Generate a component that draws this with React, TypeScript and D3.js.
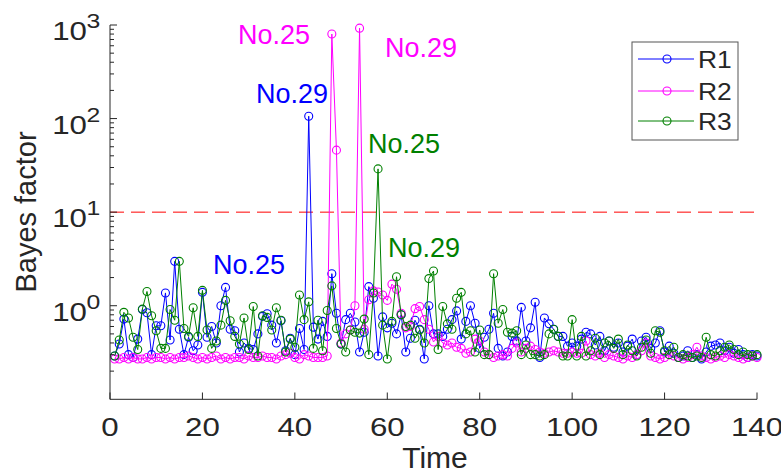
import React from "react";
import * as d3 from "d3";

const seriesNames = ["R1", "R2", "R3"];
const seriesColors = ["#0000ff", "#ff00ff", "#008000"];

const r1 = [
  0.29, 0.39, 0.72, 0.30, 0.28, 0.44, 0.91, 0.84, 0.30, 0.61,
  0.61, 1.37, 0.43, 2.98, 0.56, 0.30, 0.46, 0.33, 0.38, 1.39,
  0.46, 0.60, 0.40, 1.00, 1.57, 0.56, 0.54, 0.32, 0.40, 0.35,
  0.34, 0.50, 0.77, 0.82, 0.62, 0.40, 0.69, 0.33, 0.45, 0.30,
  0.57, 0.34, 106, 0.59, 0.44, 0.68, 0.47, 2.2, 0.83, 0.39,
  0.71, 0.83, 0.67, 0.32, 0.52, 1.6, 1.2, 0.29, 0.76, 0.58,
  0.65, 0.50, 0.80, 0.32, 0.45, 0.70, 0.56, 0.27, 1.0, 0.50,
  0.50, 0.47, 0.56, 0.71, 0.88, 0.44, 0.68, 1.0, 0.65, 0.35,
  0.46, 0.56, 0.83, 0.35, 0.29, 0.32, 0.47, 0.42, 0.96, 0.42,
  0.58, 1.09, 0.28, 0.74, 0.64, 0.56, 0.47, 0.47, 0.37, 0.40,
  0.37, 0.44, 0.52, 0.50, 0.38, 0.47, 0.33, 0.42, 0.36, 0.40,
  0.32, 0.37, 0.44, 0.30, 0.42, 0.46, 0.35, 0.40, 0.54, 0.32,
  0.37, 0.31, 0.28, 0.29, 0.33, 0.28, 0.30, 0.27, 0.32, 0.37,
  0.38, 0.40, 0.33, 0.36, 0.31, 0.34, 0.30, 0.28, 0.30, 0.29,
];

const r2 = [
  0.27, 0.27, 0.28, 0.27, 0.28, 0.27, 0.27, 0.28, 0.27, 0.28,
  0.28, 0.27, 0.28, 0.27, 0.28, 0.28, 0.29, 0.28, 0.27, 0.28,
  0.27, 0.28, 0.29, 0.27, 0.28, 0.27, 0.28, 0.28, 0.27, 0.29,
  0.28, 0.28, 0.29, 0.28, 0.28, 0.27, 0.29, 0.30, 0.31, 0.28,
  0.27, 0.30, 0.29, 0.28, 0.28, 0.28, 0.29, 800, 46, 0.40,
  0.50, 0.55, 1.00, 925, 0.56, 1.16, 1.44, 1.40, 1.30, 1.14,
  1.70, 1.50, 0.83, 0.58, 0.60, 0.93, 0.98, 0.71, 0.56, 0.41,
  0.47, 0.40, 0.38, 0.40, 0.36, 0.35, 0.31, 0.32, 0.44, 0.42,
  0.32, 0.30, 0.28, 0.29, 0.30, 0.29, 0.35, 0.40, 0.32, 0.35,
  0.37, 0.34, 0.32, 0.31, 0.32, 0.33, 0.32, 0.31, 0.31, 0.32,
  0.31, 0.31, 0.42, 0.30, 0.29, 0.31, 0.28, 0.30, 0.29, 0.28,
  0.27, 0.29, 0.28, 0.30, 0.33, 0.40, 0.29, 0.28, 0.27, 0.28,
  0.30, 0.29, 0.28, 0.27, 0.28, 0.30, 0.36, 0.29, 0.28, 0.27,
  0.28, 0.29, 0.28, 0.30, 0.29, 0.28, 0.27, 0.28, 0.29, 0.28,
];

const r3 = [
  0.29, 0.43, 0.85, 0.74, 0.46, 0.34, 0.92, 1.42, 0.78, 0.54,
  0.35, 0.35, 0.91, 0.70, 2.98, 0.57, 0.47, 0.95, 0.47, 1.46,
  0.55, 0.35, 0.42, 0.62, 1.14, 0.69, 0.47, 0.39, 0.74, 0.34,
  0.98, 0.29, 0.78, 0.75, 0.55, 0.95, 0.70, 0.32, 0.44, 0.36,
  1.30, 0.71, 1.10, 0.35, 0.70, 0.33, 0.89, 1.63, 0.57, 0.39,
  0.32, 0.55, 0.52, 0.51, 0.72, 0.30, 1.37, 29, 0.62, 0.27,
  0.68, 2.04, 0.80, 0.60, 0.62, 0.45, 0.55, 0.40, 1.95, 2.35,
  0.34, 0.98, 0.64, 0.56, 1.20, 1.39, 0.50, 0.54, 0.32, 0.55,
  0.30, 0.30, 2.20, 0.65, 0.91, 0.52, 0.51, 0.54, 0.30, 0.38,
  0.30, 0.30, 0.29, 0.30, 0.50, 0.56, 0.47, 0.29, 0.29, 0.71,
  0.29, 0.47, 0.29, 0.33, 0.45, 0.30, 0.40, 0.42, 0.35, 0.44,
  0.30, 0.38, 0.33, 0.29, 0.36, 0.43, 0.31, 0.54, 0.52, 0.33,
  0.30, 0.36, 0.28, 0.30, 0.29, 0.28, 0.29, 0.28, 0.46, 0.30,
  0.29, 0.33, 0.36, 0.38, 0.34, 0.30, 0.32, 0.30, 0.29, 0.30,
];

const xTicks = [0, 20, 40, 60, 80, 100, 120, 140];
const yExponents = [0, 1, 2, 3];
const threshold = 10;

const annoText = ["No.25", "No.25", "No.29", "No.29", "No.25", "No.29"];
const annoSeries = [1, 0, 1, 0, 2, 2];

const W = 781;
const H = 476;
const FONT = "'Liberation Sans', Arial, Helvetica, sans-serif";
const TXT = "#262626";

function Stretch({ x, y, sx = 1.18, anchor = "middle", size, fill = TXT, children }: any) {
  return (
    <g transform={`translate(${x},${y}) scale(${sx},1)`}>
      <text x={0} y={0} textAnchor={anchor} fontSize={size} fill={fill} fontFamily={FONT}>
        {children}
      </text>
    </g>
  );
}

export default function App() {
  const x = d3.scaleLinear().domain([0, 140]).range([110, 757]);
  const y = d3.scaleLog().domain([0.1, 1000]).range([399.3, 25]);
  const all = [r1, r2, r3];
  const line = d3
    .line<number>()
    .x((_, i) => x(i + 1))
    .y((d) => y(d));

  const minor: number[] = [];
  for (let e = -1; e < 3; e++) {
    for (let m = 2; m <= 9; m++) minor.push(m * Math.pow(10, e));
  }

  const annoPos = [
    [238, 44],
    [213, 274],
    [385, 57],
    [256, 103],
    [368, 153],
    [388, 257],
  ];

  const legY = [59, 91, 121];

  return (
    <svg
      width={W}
      height={H}
      style={{ position: "absolute", left: 0, top: 0, background: "#fff" }}
      fontFamily={FONT}
    >
      <rect x={0} y={0} width={W} height={H} fill="#fff" />
      <line
        x1={x(0)}
        x2={x(140)}
        y1={y(threshold)}
        y2={y(threshold)}
        stroke="#ff0000"
        strokeWidth={1}
        strokeDasharray="14,7"
      />
      {all.map((s, k) => (
        <g key={k}>
          <path d={line(s) || ""} fill="none" stroke={seriesColors[k]} strokeWidth={1} />
          {s.map((v, i) => (
            <circle
              key={i}
              cx={x(i + 1)}
              cy={y(v)}
              r={4}
              fill="none"
              stroke={seriesColors[k]}
              strokeWidth={1.1}
            />
          ))}
        </g>
      ))}
      <line x1={110} x2={110} y1={25} y2={399.3} stroke={TXT} strokeWidth={1} />
      <line x1={110} x2={757} y1={399.3} y2={399.3} stroke={TXT} strokeWidth={1} />
      {xTicks.map((t) => (
        <g key={t}>
          <line x1={x(t)} x2={x(t)} y1={399.3} y2={392.5} stroke={TXT} />
          <Stretch x={x(t)} y={436} size={26.5}>
            {String(t)}
          </Stretch>
        </g>
      ))}
      {yExponents.map((e) => {
        const yy = y(Math.pow(10, e));
        return (
          <g key={e}>
            <line x1={110} x2={117} y1={yy} y2={yy} stroke={TXT} />
            <Stretch x={87} y={yy + 15} size={26.5} anchor="end">
              10
            </Stretch>
            <Stretch x={86.5} y={yy + 3} size={21} anchor="start">
              {String(e)}
            </Stretch>
          </g>
        );
      })}
      {minor.map((m, i) => (
        <line key={i} x1={110} x2={114} y1={y(m)} y2={y(m)} stroke={TXT} />
      ))}
      <text x={435} y={468} textAnchor="middle" fontSize={30} fill={TXT}>
        Time
      </text>
      <text
        transform={`translate(36,212) rotate(-90)`}
        textAnchor="middle"
        fontSize={29}
        fill={TXT}
      >
        Bayes factor
      </text>
      {annoText.map((t, i) => (
        <text
          key={i}
          x={annoPos[i][0]}
          y={annoPos[i][1]}
          fontSize={27}
          fill={seriesColors[annoSeries[i]]}
        >
          {t}
        </text>
      ))}
      <rect x={632} y={42} width={106} height={98} fill="#fff" stroke="#555" strokeWidth={1} />
      {seriesNames.map((n, k) => (
        <g key={n}>
          <line x1={638} x2={694} y1={legY[k]} y2={legY[k]} stroke={seriesColors[k]} strokeWidth={1} />
          <circle cx={667} cy={legY[k]} r={4} fill="none" stroke={seriesColors[k]} strokeWidth={1.1} />
          <Stretch x={698} y={legY[k] + 9} size={23} anchor="start" sx={1.15}>
            {n}
          </Stretch>
        </g>
      ))}
    </svg>
  );
}
